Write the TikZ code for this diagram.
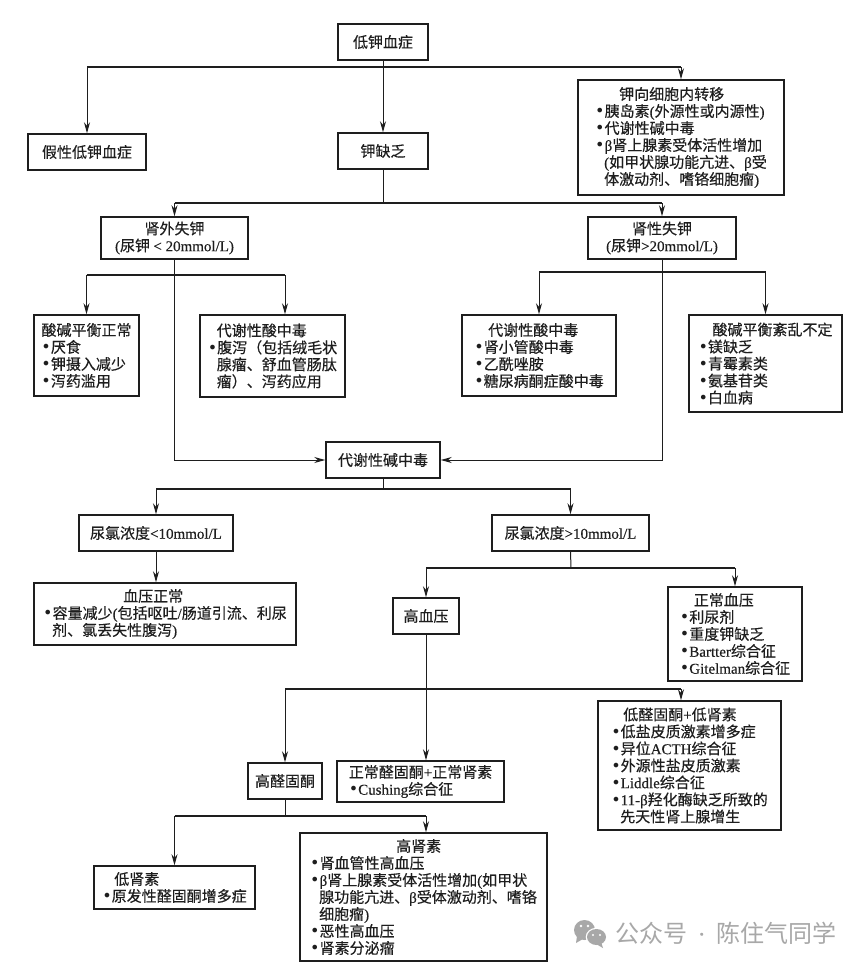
\documentclass[tikz,border=0pt]{standalone}
\usepackage{fontspec}
\usetikzlibrary{arrows.meta}
\setmainfont{Noto Sans CJK SC}[FakeBold=0.35]
\newfontfamily\lat{Liberation Serif}[FakeBold=0.35]
\newfontfamily\wmfont{Noto Sans CJK SC}
\newfontfamily\bulfont{DejaVu Sans}
\newcommand{\la}[1]{{\lat #1}}
\newcommand{\bu}{{\fontsize{16}{15}\selectfont\bulfont •}}
\newcommand{\ti}[1]{\hspace*{#1pt}}
\definecolor{ink}{HTML}{1E1E1E}
\definecolor{wmgray}{HTML}{A8A8A8}
\tikzset{
  box/.style={draw=ink,line width=1.5pt,fill=white,inner sep=0pt,align=left,text=ink,
    font=\fontsize{15}{17}\selectfont},
  bus/.style={draw=ink,line width=1.5pt},
  stem/.style={draw=ink,line width=1pt},
  arr/.style={draw=ink,line width=1pt,-{Stealth[length=11pt,width=6pt]}},
  wm/.style={text=wmgray,font=\fontsize{24}{26}\selectfont\wmfont,inner sep=0pt}
}
\begin{document}
\begin{tikzpicture}[x=1pt,y=-1pt]
\useasboundingbox (0,0) rectangle (865,967);
\fill[white] (0,0) rectangle (865,967);

\node[box,minimum width=90pt,minimum height=36pt] (root) at (383,42) {低钾血症};
\node[box,minimum width=118pt,minimum height=36pt] (pseudo) at (87,152) {假性低钾血症};
\node[box,minimum width=90pt,minimum height=36pt] (def) at (383,151) {钾缺乏};
\node[box,minimum width=206pt,minimum height=115pt] (shift) at (681,137.5) {\ti{24}钾向细胞内转移\\\bu 胰岛素\la{(}外源性或内源性\la{)}\\\bu 代谢性碱中毒\\\bu \la{β}肾上腺素受体活性增加\\\ti{9}\la{(}如甲状腺功能亢进、\la{β}受\\\ti{9}体激动剂、嗜铬细胞瘤\la{)}};
\node[box,minimum width=147pt,minimum height=42pt,align=center] (extra) at (174.5,238) {肾外失钾\\\la{(}尿钾 \la{< 20mmol/L)}};
\node[box,minimum width=148pt,minimum height=42pt,align=center] (renal) at (662,238) {肾性失钾\\\la{(}尿钾\la{>20mmol/L)}};

\node[box,minimum width=105pt,minimum height=81pt] (nab) at (86.5,355.5) {酸碱平衡正常\\\bu 厌食\\\bu 钾摄入减少\\\bu 泻药滥用};
\node[box,minimum width=145pt,minimum height=82pt] (ma1) at (272.5,356) {\ti{9}代谢性酸中毒\\\bu 腹泻（包括绒毛状\\\ti{9}腺瘤、舒血管肠肽\\\ti{9}瘤）、泻药应用};
\node[box,minimum width=154pt,minimum height=81pt] (ma2) at (539,355.5) {\ti{14}代谢性酸中毒\\\bu 肾小管酸中毒\\\bu 乙酰唑胺\\\bu 糖尿病酮症酸中毒};
\node[box,minimum width=153pt,minimum height=97pt] (vab) at (765.5,363.5) {\ti{14}酸碱平衡紊乱不定\\\bu 镁缺乏\\\bu 青霉素类\\\bu 氨基苷类\\\bu 白血病};
\node[box,minimum width=114pt,minimum height=36pt] (malk) at (383,460) {代谢性碱中毒};

\node[box,minimum width=154pt,minimum height=36pt] (clow) at (156,533) {尿氯浓度\la{<10mmol/L}};
\node[box,minimum width=157pt,minimum height=36pt] (chigh) at (570.5,533) {尿氯浓度\la{>10mmol/L}};
\node[box,minimum width=262pt,minimum height=62pt] (bpn) at (165,614) {\ti{80}血压正常\\\bu 容量减少\la{(}包括呕吐\la{/}肠道引流、利尿\\\ti{9}剂、氯丢失性腹泻\la{)}};
\node[box,minimum width=66pt,minimum height=36pt] (htn) at (426,616) {高血压};
\node[box,minimum width=134pt,minimum height=94pt] (nbp) at (735,634) {\ti{14}正常血压\\\bu 利尿剂\\\bu 重度钾缺乏\\\bu \la{Bartter}综合征\\\bu \la{Gitelman}综合征};

\node[box,minimum width=74pt,minimum height=36pt] (halo) at (285,781) {高醛固酮};
\node[box,minimum width=167pt,minimum height=41pt] (nalo) at (420.5,781.5) {正常醛固酮\la{+}正常肾素\\\bu \la{Cushing}综合征};
\node[box,minimum width=183pt,minimum height=129pt] (lalo) at (689.5,765.5) {\ti{12}低醛固酮\la{+}低肾素\\\bu 低盐皮质激素增多症\\\bu 异位\la{ACTH}综合征\\\bu 外源性盐皮质激素\\\bu \la{Liddle}综合征\\\bu \la{11-β}羟化酶缺乏所致的\\\ti{9}先天性肾上腺增生};
\node[box,minimum width=161pt,minimum height=43pt] (lren) at (174.5,887.5) {\ti{12}低肾素\\\bu 原发性醛固酮增多症};
\node[box,minimum width=247pt,minimum height=128pt] (hren) at (423.5,897) {\ti{86}高肾素\\\bu 肾血管性高血压\\\bu \la{β}肾上腺素受体活性增加\la{(}如甲状\\\ti{9}腺功能亢进、\la{β}受体激动剂、嗜铬\\\ti{9}细胞瘤\la{)}\\\bu 恶性高血压\\\bu 肾素分泌瘤};

% bus junctions
\coordinate (j1) at (383,67);
\coordinate (j2) at (383,203);
\coordinate (j3) at (175,275);
\coordinate (j4) at (662,272);
\coordinate (j5) at (383,489);
\coordinate (j6) at (571,568);
\coordinate (j7) at (426,689);
\coordinate (j8) at (285,816);

% connectors
\draw[arr] (root.south) -- (def.north);
\draw[bus] (j1 -| pseudo.north) -- (j1 -| shift.north);
\draw[arr] (j1 -| pseudo.north) -- (pseudo.north);
\draw[arr] (j1 -| shift.north) -- (shift.north);

\draw[stem] (def.south) -- (j2);
\draw[bus] (j2 -| extra.north) -- (j2 -| renal.north);
\draw[arr] (j2 -| extra.north) -- (extra.north);
\draw[arr] (j2 -| renal.north) -- (renal.north);

\draw[bus] (j3 -| nab.north) -- (285,275);
\draw[arr] (j3 -| nab.north) -- (nab.north);
\draw[arr] (285,275) -- ([xshift=12.5pt]ma1.north);
\draw[bus] (j4 -| ma2.north) -- (j4 -| vab.north);
\draw[arr] (j4 -| ma2.north) -- (ma2.north);
\draw[arr] (j4 -| vab.north) -- (vab.north);

\draw[arr] (extra.south) |- (malk.west);
\draw[arr] (renal.south) |- (malk.east);

\draw[stem] (malk.south) -- (j5);
\draw[bus] (j5 -| clow.north) -- (j5 -| chigh.north);
\draw[arr] (j5 -| clow.north) -- (clow.north);
\draw[arr] (j5 -| chigh.north) -- (chigh.north);
\draw[arr] (clow.south) -- (clow.south |- bpn.north);

\draw[stem] (chigh.south) -- (j6);
\draw[bus] (j6 -| htn.north) -- (j6 -| nbp.north);
\draw[arr] (j6 -| htn.north) -- (htn.north);
\draw[arr] (j6 -| nbp.north) -- (nbp.north);

\draw[bus] (j7 -| halo.north) -- (681,689);
\draw[arr] (htn.south) -- ([xshift=5.5pt]nalo.north);
\draw[arr] (j7 -| halo.north) -- (halo.north);
\draw[arr] (681,689) -- ([xshift=-8.5pt]lalo.north);

\draw[stem] (halo.south) -- (j8);
\draw[bus] (j8 -| lren.north) -- (426,816);
\draw[arr] (j8 -| lren.north) -- (lren.north);
\draw[arr] (426,816) -- ([xshift=2.5pt]hren.north);

% watermark
\fill[wmgray] (584.5,930) ellipse (10.5pt and 10pt);
\fill[wmgray] (577,936) -- (576,943) -- (583,939) -- cycle;
\fill[white] (596.5,937) ellipse (10.8pt and 9.2pt);
\fill[wmgray] (596.5,937) ellipse (9.5pt and 8pt);
\fill[wmgray] (601,942) -- (603,948) -- (596,944) -- cycle;
\fill[white] (581,926) circle (1.4pt) (588,926) circle (1.4pt) (593,935) circle (1.2pt) (600,935) circle (1.2pt);
\node[wm,anchor=west] (wmark) at (615,933) {公众号\hspace{10.5pt}{\lat·}\hspace{10.5pt}陈住气同学};
\end{tikzpicture}
\end{document}
